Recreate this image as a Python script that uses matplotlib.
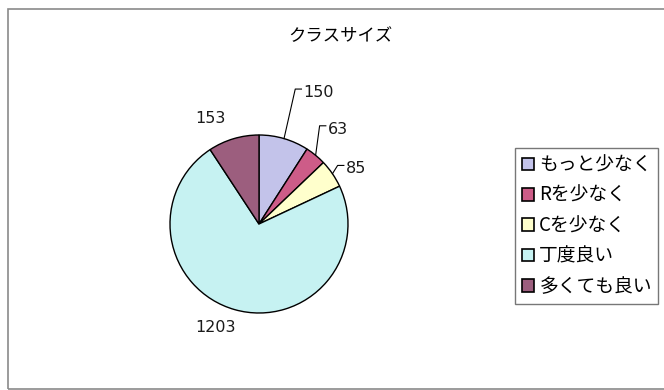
import numpy as np
import matplotlib
matplotlib.use("Agg")
import matplotlib.pyplot as plt
from matplotlib.patches import Rectangle, Patch

plt.rcParams['font.family'] = ['Noto Sans CJK JP', 'DejaVu Sans']

title = "クラスサイズ"
categories = ["もっと少なく", "Rを少なく", "Cを少なく", "丁度良い", "多くても良い"]
values = [150, 63, 85, 1203, 153]
colors = ["#C3C3EA", "#CD5C88", "#FFFFCC", "#C6F2F2", "#9C5E7E"]

# label placement per slice: (angle offset in degrees, radius), and leader flag
label_layout = [(-8, 1.62, True), (-2, 1.42, True), (-6, 1.30, True),
                (-7, 1.26, False), (8, 1.31, False)]

W, H = 664, 390
fig = plt.figure(figsize=(W / 100, H / 100), dpi=100)
fig.patch.set_facecolor("white")

# chart frame
fig.add_artist(Rectangle((8 / W, 1 / H), (W + 20) / W, (H - 10) / H,
                         transform=fig.transFigure, fill=False,
                         edgecolor="#8a8a8a", linewidth=1.2))

# pie axes: centre at (259, 224) px, radius 89 px
cx, cy, r = 259, 224, 89
hw, hh = 200, 160
ax = fig.add_axes([(cx - hw) / W, (H - cy - hh) / H, 2 * hw / W, 2 * hh / H])
wedges, _ = ax.pie(values, colors=colors, startangle=90, counterclock=False,
                   radius=1.0,
                   wedgeprops=dict(edgecolor="black", linewidth=1.0))
ax.set_xlim(-hw / r, hw / r)
ax.set_ylim(-hh / r, hh / r)
ax.set_aspect("auto")
ax.axis("off")

num_font = dict(fontsize=11.5, family=["DejaVu Sans"], color="#1a1a1a")

total = sum(values)
start = 90.0
for v, w, (dang, rad, leader) in zip(values, wedges, label_layout):
    mid = start - v / total * 180.0
    start -= v / total * 360.0
    t = np.deg2rad(mid + dang)
    tx, ty = rad * np.cos(t), rad * np.sin(t)
    if leader:
        m = np.deg2rad(mid)
        ex, ey = np.cos(m), np.sin(m)
        lx = tx - 0.26
        ly = ty + 0.04
        ax.plot([ex, lx, lx + 0.07], [ey, ly, ly], color="black", lw=0.8)
        ax.text(lx + 0.09, ty, str(v), ha="left", va="center", **num_font)
    else:
        ax.text(tx, ty, str(v), ha="center", va="center", **num_font)

fig.text(340 / W, 1 - 36 / H, title, ha="center", va="center", fontsize=12.5)

handles = [Patch(facecolor=c, edgecolor="black", linewidth=1.2) for c in colors]
leg = fig.legend(handles, categories, loc="upper left",
                 bbox_to_anchor=(515 / W, 1 - 148 / H),
                 fontsize=13.5, frameon=True, fancybox=False,
                 handlelength=0.65, handleheight=0.65, handletextpad=0.3,
                 labelspacing=0.5, borderpad=0.35, borderaxespad=0)
leg.get_frame().set_edgecolor("#555555")
leg.get_frame().set_linewidth(1.0)

fig.savefig("out.png", dpi=100, facecolor="white")
